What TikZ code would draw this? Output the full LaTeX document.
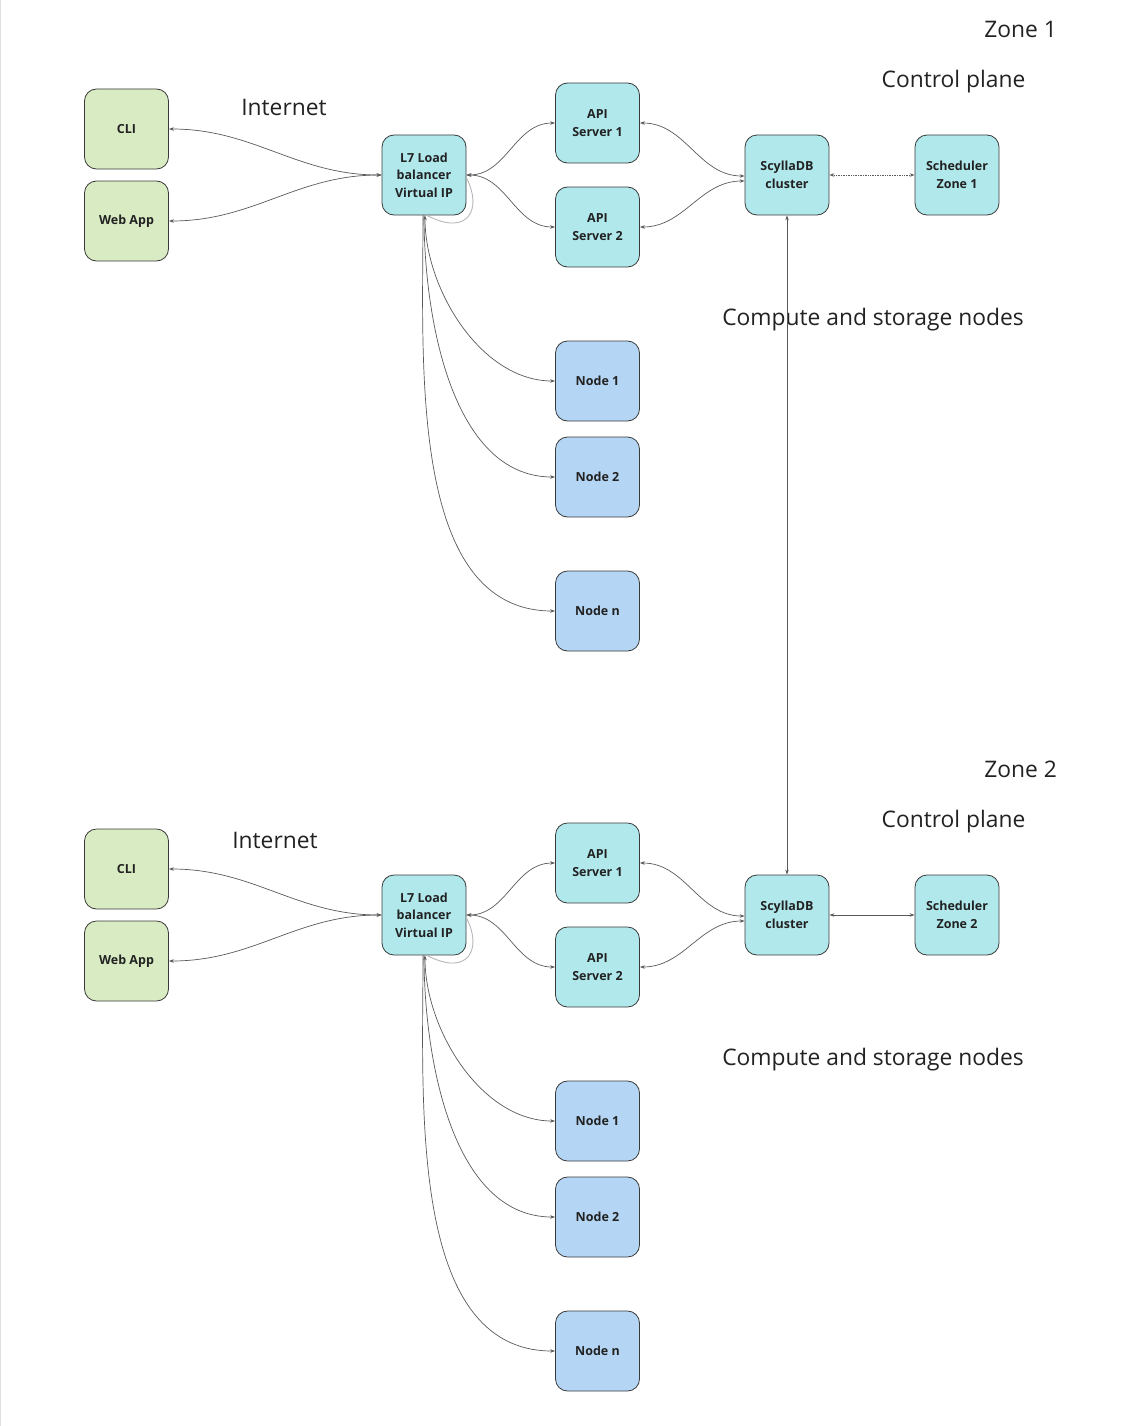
\documentclass[tikz,border=0pt]{standalone}
\usepackage{fontspec}
\setmainfont{Open Sans}
\usetikzlibrary{arrows.meta}
\definecolor{cgreen}{HTML}{D9EBC3}
\definecolor{ccyan}{HTML}{B0E8EC}
\definecolor{cblue}{HTML}{B4D6F4}
\definecolor{cedge}{HTML}{3A3A3A}
\definecolor{cline}{HTML}{5A5A5A}
\definecolor{ctext}{HTML}{222222}
\begin{document}
\begin{tikzpicture}[x=1pt,y=-1pt,
  box/.style={draw=cedge, line width=0.8pt, rounded corners=12pt, minimum width=84pt, minimum height=80pt, inner sep=2pt, align=center, text=ctext, font=\bfseries\fontsize{12.5}{17.5}\selectfont},
  gbox/.style={box, fill=cgreen},
  cbox/.style={box, fill=ccyan},
  bbox/.style={box, fill=cblue},
  lbl/.style={text=ctext, font=\fontsize{22.8}{27}\selectfont, inner sep=0pt},
  conn/.style={draw=cline, line width=0.7pt},
  tip/.tip={Stealth[length=5pt,width=3.5pt]},
  loopline/.style={draw=black!28, line width=0.9pt}
]
\useasboundingbox (0,0) rectangle (1120,1426);
\fill[white] (0,0) rectangle (1120,1426);
\draw[black!12, line width=1pt] (0.8,0) -- (0.8,1426);

\foreach \z/\o/\ix/\iy/\sst in {1/0/284/107/densely dotted, 2/740/275/840/solid}{
  \node[gbox] (cli\z) at (126.5,{129+\o}) {CLI};
  \node[gbox] (web\z) at (126.5,{221+\o}) {Web App};
  \node[cbox] (lb\z) at (424,{175+\o}) {L7 Load\\balancer\\Virtual IP};
  \node[cbox] (apia\z) at (597.5,{123+\o}) {API\\Server 1};
  \node[cbox] (apib\z) at (597.5,{227+\o}) {API\\Server 2};
  \node[cbox] (scy\z) at (787,{175+\o}) {ScyllaDB\\cluster};
  \node[cbox] (sch\z) at (957,{175+\o}) {Scheduler\\Zone \z};
  \node[bbox] (na\z) at (597.5,{381+\o}) {Node 1};
  \node[bbox] (nb\z) at (597.5,{477+\o}) {Node 2};
  \node[bbox] (nn\z) at (597.5,{611+\o}) {Node n};

  \node[lbl, anchor=east] (zone\z) at (1057,{29.5+\o}) {Zone \z};
  \node[lbl] (cp\z) at (953.5,{81.5+\o}) {Control plane};
  \node[lbl] (inet\z) at (\ix,\iy) {Internet};
  \node[lbl] (csn\z) at (873,{319.5+\o}) {Compute and storage nodes};

  \draw[conn, tip-tip] (cli\z.east) to[out=0,in=180] (lb\z.west);
  \draw[conn, tip-tip] (web\z.east) to[out=0,in=180] (lb\z.west);
  \draw[conn, tip-tip] (lb\z.east) to[out=0,in=180] (apia\z.west);
  \draw[conn, tip-tip] (lb\z.east) to[out=0,in=180] (apib\z.west);
  \draw[conn, tip-tip] (apia\z.east) to[out=0,in=180] ([yshift=-1pt]scy\z.west);
  \draw[conn, tip-tip] (apib\z.east) to[out=0,in=180] ([yshift=-6pt]scy\z.west);
  \draw[conn, \sst, tip-tip] (scy\z.east) -- (sch\z.west);
  \draw[conn, tip-tip] ([xshift=1pt]lb\z.south) to[out=-90,in=180,looseness=0.9] (na\z.west);
  \draw[conn, -tip] ([xshift=0pt]lb\z.south) to[out=-90,in=180,looseness=0.9] (nb\z.west);
  \draw[conn, -tip] ([xshift=-1pt]lb\z.south) to[out=-90,in=180,looseness=0.9] (nn\z.west);
  \draw[loopline] ([yshift=-3pt]lb\z.east) .. controls +(16,30) and +(42,22) .. ([xshift=3pt]lb\z.south);
}
\draw[conn, tip-tip] (scy1.south) -- (scy2.north);
\end{tikzpicture}
\end{document}
